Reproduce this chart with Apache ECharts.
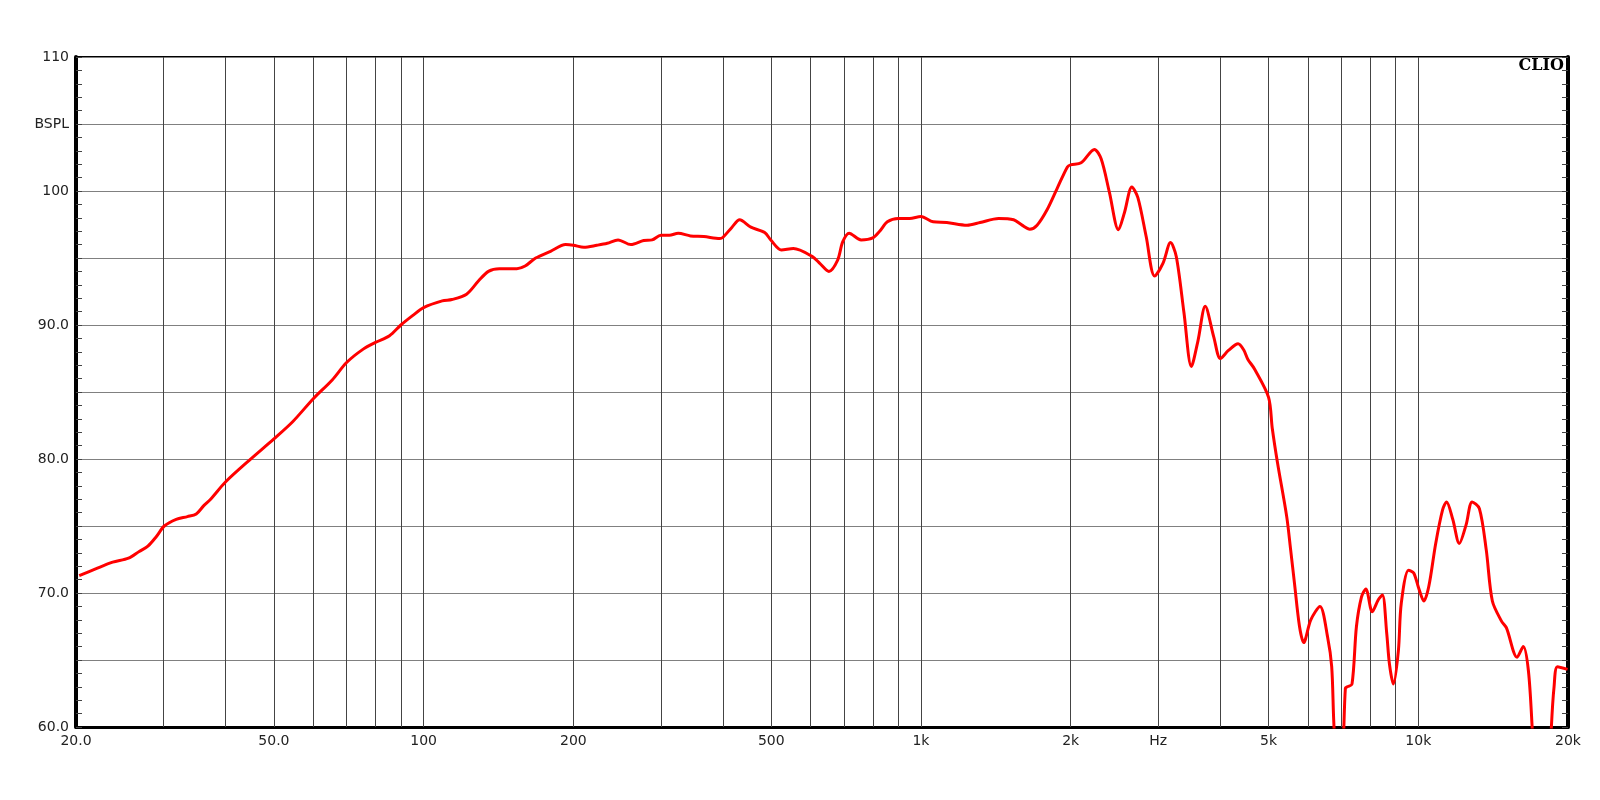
<!DOCTYPE html>
<html>
<head>
<meta charset="utf-8">
<script src="https://cdn.jsdelivr.net/npm/echarts@6/dist/echarts.min.js"></script>
<style>
  html, body { margin: 0; padding: 0; background: #ffffff; }
  #chart { width: 1600px; height: 800px; }
</style>
</head>
<body>
<div id="chart"></div>
<script>
// Frequency (Hz) and SPL (dB)
const freq = [20.3, 21.9, 23.7, 25.5, 26.8, 27.9, 29.0, 30.1, 31.8, 33.5, 34.9, 36.1, 37.3, 40, 44.6, 50, 54.6, 60, 65.5, 70, 75.6, 80, 85.4, 90, 95, 100,
  109, 114, 122, 129, 135, 142, 154, 160, 168, 180, 193, 200, 210, 223, 234, 246, 261, 277, 288, 300, 312, 325, 344, 366, 394, 400,
  417, 432, 455, 485, 500, 524, 554, 605, 626, 653, 680, 696, 717, 758, 800, 826, 856, 900, 949, 1000,
  1058, 1127, 1238, 1315, 1433, 1536, 1597, 1655, 1712, 1793, 1879, 1970, 2000, 2099, 2232, 2303, 2393, 2495, 2566, 2655, 2730,
  2837, 2950, 3066, 3176, 3262, 3380, 3497, 3605, 3729, 3880, 4000, 4152, 4342, 4455, 4541, 4688, 5000, 5086, 5212, 5438, 5539,
  5638, 5770, 5883, 6079, 6343, 6572, 6697, 6760, 6900, 7050, 7135, 7198, 7357, 7510, 7686, 7845, 8080, 8310, 8470, 8640, 8750,
  8910, 9120, 9240, 9560, 9790, 10020, 10260, 10500, 10840, 11190, 11400, 11730, 12090, 12480, 12830, 13270, 13700, 14090, 14700,
  15040, 15800, 16260, 16650, 16940, 17500, 18200, 18520, 18750, 19050, 19960];
const spl = [71.3, 71.8, 72.3, 72.6, 73.1, 73.5, 74.2, 75.0, 75.5, 75.7, 75.9, 76.5, 77.0, 78.3, 79.9, 81.5, 82.8, 84.5, 85.9, 87.2, 88.2, 88.7, 89.2, 90.0, 90.7, 91.3,
  91.8, 91.9, 92.3, 93.3, 94.0, 94.2, 94.2, 94.4, 95.0, 95.5, 96.0, 95.95, 95.8, 95.95, 96.1, 96.35, 96.0, 96.3, 96.35, 96.7, 96.7, 96.85, 96.65, 96.6, 96.45, 96.55,
  97.3, 97.85, 97.3, 96.9, 96.3, 95.6, 95.7, 95.1, 94.6, 94.0, 94.85, 96.2, 96.85, 96.35, 96.5, 97.0, 97.7, 97.95, 97.95, 98.1,
  97.7, 97.65, 97.45, 97.65, 97.95, 97.85, 97.45, 97.15, 97.45, 98.6, 100.2, 101.8, 101.95, 102.1, 103.1, 102.4, 99.9, 97.1, 98.4, 100.3, 99.5,
  96.6, 93.65, 94.6, 96.15, 95.1, 90.9, 86.9, 88.8, 91.4, 89.1, 87.5, 88.1, 88.6, 88.15, 87.45, 86.7, 84.6, 82.3, 79.7, 75.7, 73.2,
  70.7, 67.5, 66.3, 68.0, 69.0, 66.7, 64.5, 60.5, 54, 58, 62.9, 63.0, 63.2, 67.5, 69.7, 70.3, 68.6, 69.5, 69.85, 67.0, 64.7,
  63.2, 65.7, 69.2, 71.7, 71.5, 70.35, 69.4, 70.5, 73.7, 76.2, 76.8, 75.5, 73.7, 75.1, 76.8, 76.3, 73.2, 69.4, 67.9,
  67.4, 65.2, 66.0, 64.2, 60, 50, 53, 60, 63.0, 64.5, 64.3];

// Axis ticks
const xGridValues = [30, 40, 50, 60, 70, 80, 90, 100, 200, 300, 400, 500, 600, 700, 800, 900, 1000,
  2000, 3000, 4000, 5000, 6000, 7000, 8000, 9000, 10000];
const xLabelValues = [20, 50, 100, 200, 500, 1000, 2000, 3000, 5000, 10000, 20000];
const xLabelTexts = ['20.0', '50.0', '100', '200', '500', '1k', '2k', 'Hz', '5k', '10k', '20k'];
const yLabelValues = [110, 105, 100, 90, 80, 70, 60];
const yLabelTexts = ['110', 'BSPL', '100', '90.0', '80.0', '70.0', '60.0'];

const curve = freq.map((f, i) => [f, spl[i]]);

const labelFont = { color: '#222', fontFamily: 'DejaVu Sans', fontSize: 14 };

const gridLines = xGridValues.map(v => ({ xAxis: v, label: { show: false } }));
const labelLines = xLabelValues.map((v, i) => ({
  xAxis: v,
  lineStyle: { color: 'rgba(0,0,0,0)', width: 0 },
  label: Object.assign({ show: true, position: 'start', distance: 7, formatter: xLabelTexts[i] }, labelFont)
}));

const chart = echarts.init(document.getElementById('chart'), null, { renderer: 'canvas' });
chart.setOption({
  animation: false,
  backgroundColor: '#ffffff',
  grid: {
    left: 76, right: 32, top: 57, bottom: 73,
    show: true, borderColor: '#000', borderWidth: 2, backgroundColor: 'transparent'
  },
  xAxis: {
    type: 'log', logBase: 10, min: 20, max: 20000,
    axisLine: { show: true, lineStyle: { color: '#000', width: 3 } },
    axisTick: { show: false },
    axisLabel: { show: false },
    splitLine: { show: false },
    minorTick: { show: false }
  },
  yAxis: [{
    type: 'value', min: 60, max: 110, interval: 5, position: 'left',
    axisLine: { show: true, onZero: false, lineStyle: { color: '#000', width: 4 } },
    axisTick: { show: true, inside: true, length: 6, lineStyle: { color: '#444' } },
    minorTick: { show: true, splitNumber: 5, length: 6, lineStyle: { color: '#444' } },
    splitLine: { show: true, lineStyle: { color: '#808080', width: 1 } },
    axisLabel: Object.assign({
      margin: 7,
      formatter: v => { const k = yLabelValues.indexOf(v); return k >= 0 ? yLabelTexts[k] : ''; }
    }, labelFont)
  }, {
    type: 'value', min: 60, max: 110, interval: 5, position: 'right',
    axisLine: { show: true, onZero: false, lineStyle: { color: '#000', width: 4 } },
    axisTick: { show: true, inside: true, length: 6, lineStyle: { color: '#444' } },
    minorTick: { show: true, splitNumber: 5, length: 6, lineStyle: { color: '#444' } },
    splitLine: { show: false },
    axisLabel: { show: false }
  }],
  graphic: [{
    type: 'text', right: 36, top: 58,
    style: { text: 'CLIO', font: 'bold 16px "DejaVu Serif"', fill: '#000' }
  }],
  series: [{
    type: 'line',
    data: curve,
    showSymbol: false,
    smooth: 0.3,
    clip: true,
    lineStyle: { color: '#ff0000', width: 3 },
    z: 5,
    markLine: {
      silent: true,
      symbol: ['none', 'none'],
      animation: false,
      lineStyle: { color: '#444', width: 1, type: 'solid' },
      label: Object.assign({ position: 'start', distance: 7 }, labelFont),
      emphasis: { disabled: true },
      data: gridLines.concat(labelLines),
      z: 1
    }
  }]
});
</script>
</body>
</html>
